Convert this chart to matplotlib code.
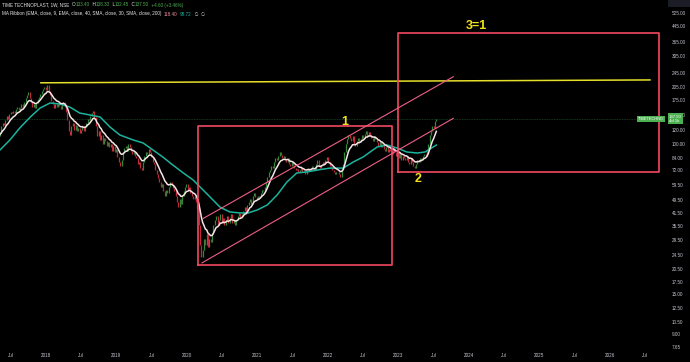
import numpy as np
import pandas as pd
import matplotlib
matplotlib.use("Agg")
import matplotlib.pyplot as plt
from matplotlib.ticker import FixedLocator, NullLocator
from matplotlib.patches import Rectangle

# weekly closes, TIME TECHNOPLAST (NSE)
closes_2017 = [115, 125, 130, 128, 136, 142, 138, 146, 150, 148,
               152, 148, 156, 160, 154, 158, 165, 160, 170, 178,
               185, 192, 180, 170, 160, 165, 158, 168, 176, 182,
               188, 195, 200, 205]
closes_2018 = [198, 210, 196, 185, 172, 165,
               158, 165, 160, 168, 162, 155, 166, 170, 160, 150,
               135, 118, 112, 125, 130, 120, 128, 118, 122, 115,
               120, 126, 118, 124, 130, 138, 135, 142, 148, 152,
               140, 125, 110, 118, 105, 112, 100, 108, 104, 98,
               102, 96, 100, 92, 98, 90, 94]
closes_2019 = [85, 80, 76,
               82, 90, 95, 98, 92, 100, 96, 92, 88, 90,
               86, 84, 78, 80, 74, 72, 80, 86, 90, 88,
               94, 90, 85, 80, 78, 72, 68, 65, 62, 58,
               60, 55, 52, 56, 54, 58, 62, 60, 57, 55,
               52, 48, 45, 50, 47, 52, 55, 58, 60]
closes_2020 = [56,
               58, 54, 52, 50, 52, 48, 44, 36, 28, 24,
               26, 30, 28, 32, 27, 30, 29, 32, 36, 38,
               40, 36, 38, 41, 37, 39, 36, 38, 40, 37,
               39, 41, 37, 38, 36, 38, 40, 42, 39, 41,
               43, 45, 42, 46, 48, 50, 47, 52, 54, 51,
               50]
closes_2021 = [52, 51, 54, 56, 55, 58, 62, 66, 70,
               72, 76, 74, 80, 84, 82, 86, 90, 87, 84,
               86, 82, 80, 84, 78, 76, 80, 77, 74, 72,
               73, 70, 72, 74, 70, 71, 68, 72, 74, 71,
               73, 76, 74, 72, 78, 82, 76, 74, 77, 80,
               78, 82, 85]
closes_2022 = [80, 76, 74, 72, 70, 68, 70,
               70, 68, 66, 72, 78, 90, 100, 106, 112, 108,
               104, 110, 100, 98, 104, 108, 102, 106, 112, 108,
               114, 118, 110, 116, 112, 108, 104, 110, 106, 102,
               98, 102, 96, 100, 94, 92, 96, 90, 94, 92,
               88, 95, 90, 86, 92]
closes_2023 = [84, 88, 82, 86, 84,
               82, 86, 80, 78, 84, 80, 76, 74, 78, 82,
               80, 84, 82, 86, 88, 86, 92, 100, 112, 118, 125, 122, 133, 137.5]
first_open = 110
start_date = "2017-05-08"
ema9_seed = 112

# EMA 40 ribbon line (decimal year, price)
ema40_t = [2017.35, 2017.49, 2017.63, 2017.78, 2017.92, 2018.06, 2018.20, 2018.34,
           2018.48, 2018.63, 2018.77, 2018.91, 2019.05, 2019.24, 2019.38, 2019.52,
           2019.66, 2019.80, 2019.95, 2020.09, 2020.23, 2020.33, 2020.47, 2020.61,
           2020.75, 2020.87, 2021.00, 2021.14, 2021.28, 2021.42, 2021.56, 2021.70,
           2021.85, 2022.03, 2022.22, 2022.36, 2022.50, 2022.70, 2022.84, 2022.98,
           2023.12, 2023.27, 2023.38, 2023.54]
ema40_p = [92.7, 105.2, 122.4, 140.8, 157.8, 168.1, 165.9, 159.7,
           148.0, 144.3, 140.8, 124.0, 112.1, 105.2, 101.3, 92.7,
           84.8, 76.7, 69.3, 63.4, 55.9, 51.1, 45.0, 42.3,
           41.8, 41.8, 43.4, 46.2, 52.4, 61.8, 69.3, 70.2,
           71.9, 73.7, 73.7, 79.6, 84.8, 96.3, 98.7, 95.1,
           90.4, 89.2, 90.4, 98.7]

# drawings (decimal years, prices)
yellow_t = [2017.93, 2026.57]
yellow_p = [217, 225]
box1_t = [2020.163, 2022.906]
box1_p = [21.6, 126]
box2_t = [2023.0, 2026.70]
box2_p = [70.4, 409]
chan_lo_t = [2020.215, 2023.78]
chan_lo_p = [22.2, 138.4]
chan_hi_t = [2020.234, 2023.78]
chan_hi_p = [39.0, 234.4]
wave_labels = [("1", 2022.234, 132.6), ("2", 2023.283, 64.0), ("3=1", 2024.11, 448.0)]

price_ticks = [525, 445, 365, 305, 245, 205, 175, 145, 120, 100, 84, 72, 59.5,
               49.5, 41.5, 35.5, 29.5, 24.5, 20.5, 17.5, 15, 12.5, 10.5, 9, 7.65]
time_ticks = [2017.5, 2018, 2018.5, 2019, 2019.5, 2020, 2020.5, 2021, 2021.5,
              2022, 2022.5, 2023, 2023.5, 2024, 2024.5, 2025, 2025.5, 2026, 2026.5]
time_labels = ["Jul", "2018", "Jul", "2019", "Jul", "2020", "Jul", "2021", "Jul",
               "2022", "Jul", "2023", "Jul", "2024", "Jul", "2025", "Jul", "2026", "Jul"]

closes = np.array(closes_2017 + closes_2018 + closes_2019 + closes_2020
                  + closes_2021 + closes_2022 + closes_2023, dtype=float)
dates = pd.date_range(start_date, periods=len(closes), freq="W-MON")
t = dates.year + (dates.dayofyear - 1) / 365.25
opens = np.concatenate([[first_open], closes[:-1]])


def ema(vals, n, seed):
    a = 2 / (n + 1)
    e = seed
    out = []
    for v in vals:
        e = e + a * (v - e)
        out.append(e)
    return np.array(out)


ema9 = ema(closes, 9, ema9_seed)

W, H = 690, 362
fig = plt.figure(figsize=(W / 100, H / 100), dpi=100, facecolor="black")
ax = fig.add_axes([0, 12 / H, 665 / W, 350 / H])
ax.set_facecolor("black")
ax.set_yscale("log")
ax.set_ylim(7.37, 619)
ax.set_xlim(2017.35, 2026.783)
for s in ax.spines.values():
    s.set_visible(False)

up = closes >= opens
ax.vlines(t[up], opens[up], closes[up], color="#2f8a3a", lw=0.9, zorder=2)
ax.vlines(t[~up], closes[~up], opens[~up], color="#c0283c", lw=0.9, zorder=2)
ax.plot(ema40_t, ema40_p, color="#1cb39d", lw=1.1, zorder=3)
ax.plot(t, ema9, color="#f7e4e6", lw=1.1, zorder=4)

ax.axhline(closes[-1], color="#1d4a28", lw=0.6, ls=(0, (1, 1)), zorder=1)

ax.plot(yellow_t, yellow_p, color="#e6e02a", lw=1.1, zorder=5)
red = "#f2475f"
for bt, bp in [(box1_t, box1_p), (box2_t, box2_p)]:
    ax.plot([bt[0], bt[1], bt[1], bt[0], bt[0]], [bp[0], bp[0], bp[1], bp[1], bp[0]],
            color=red, lw=1.2, zorder=5)
ax.plot(chan_lo_t, chan_lo_p, color="#ef5f86", lw=0.8, zorder=5)
ax.plot(chan_hi_t, chan_hi_p, color="#ef5f86", lw=0.8, zorder=5)
for txt, tx, ty in wave_labels:
    ax.text(tx, ty, txt, color="#f5e11b", fontsize=9, fontweight="bold",
            family="Liberation Sans", ha="center", va="center", zorder=6)

ax.yaxis.tick_right()
ax.yaxis.set_major_locator(FixedLocator(price_ticks))
ax.yaxis.set_minor_locator(NullLocator())
ax.set_yticklabels([f"{v:.2f}" for v in price_ticks])
ax.tick_params(axis="y", length=0, pad=5, labelsize=3.3, labelcolor="#c3c6ce")
ax.set_xticks(time_ticks)
ax.set_xticklabels(time_labels)
ax.tick_params(axis="x", length=0, pad=2.5, labelsize=3.3, labelcolor="#c3c6ce")
for lab in ax.get_xticklabels() + ax.get_yticklabels():
    lab.set_family("Liberation Sans")

# price badges
yb = 1 - 118.8 / H
fig.text(664 / W, yb, "TIMETECHNO", color="white", fontsize=2.8, family="Liberation Sans",
         ha="right", va="center",
         bbox=dict(facecolor="#4caf50", edgecolor="none", pad=0.9))
fig.text(669 / W, yb, "137.50\n4d 1h", color="white", fontsize=3.1, family="Liberation Sans",
         ha="left", va="center", linespacing=1.1, zorder=10,
         bbox=dict(facecolor="#4caf50", edgecolor="none", pad=0.9))
fig.patches.append(Rectangle((668 / W, 1 - 7 / H), 22 / W, 7 / H, transform=fig.transFigure,
                             facecolor="#1a1d26", edgecolor="none"))

# legend lines
ren = fig.canvas.get_renderer()
white = "#e8e8e8"
green = "#4caf50"


def put_line(pieces, x0, y0, size):
    x = x0
    for s, col in pieces:
        tt = fig.text(x / W, 1 - y0 / H, s, color=col, fontsize=size, ha="left", va="center",
                      family=["Liberation Sans", "DejaVu Sans"])
        x += tt.get_window_extent(renderer=ren).width


put_line([("TIME TECHNOPLAST, 1W, NSE  ", white), ("O", white), ("133.40", green),
          ("  H", white), ("138.30", green), ("  L", white), ("132.45", green),
          ("  C", white), ("137.50", green), ("  +4.60 (+3.46%)", green)], 2, 5, 3.3)
put_line([("MA Ribbon (EMA, close, 9, EMA, close, 40, SMA, close, 30, SMA, close, 200)  ", white),
          ("118.40", "#f08a9a"), ("  ", white), ("98.72", "#1cb39d"), ("  \u2205  \u2205", white)],
         2, 14, 3.3)

fig.savefig("out.png", dpi=100, facecolor="black")
